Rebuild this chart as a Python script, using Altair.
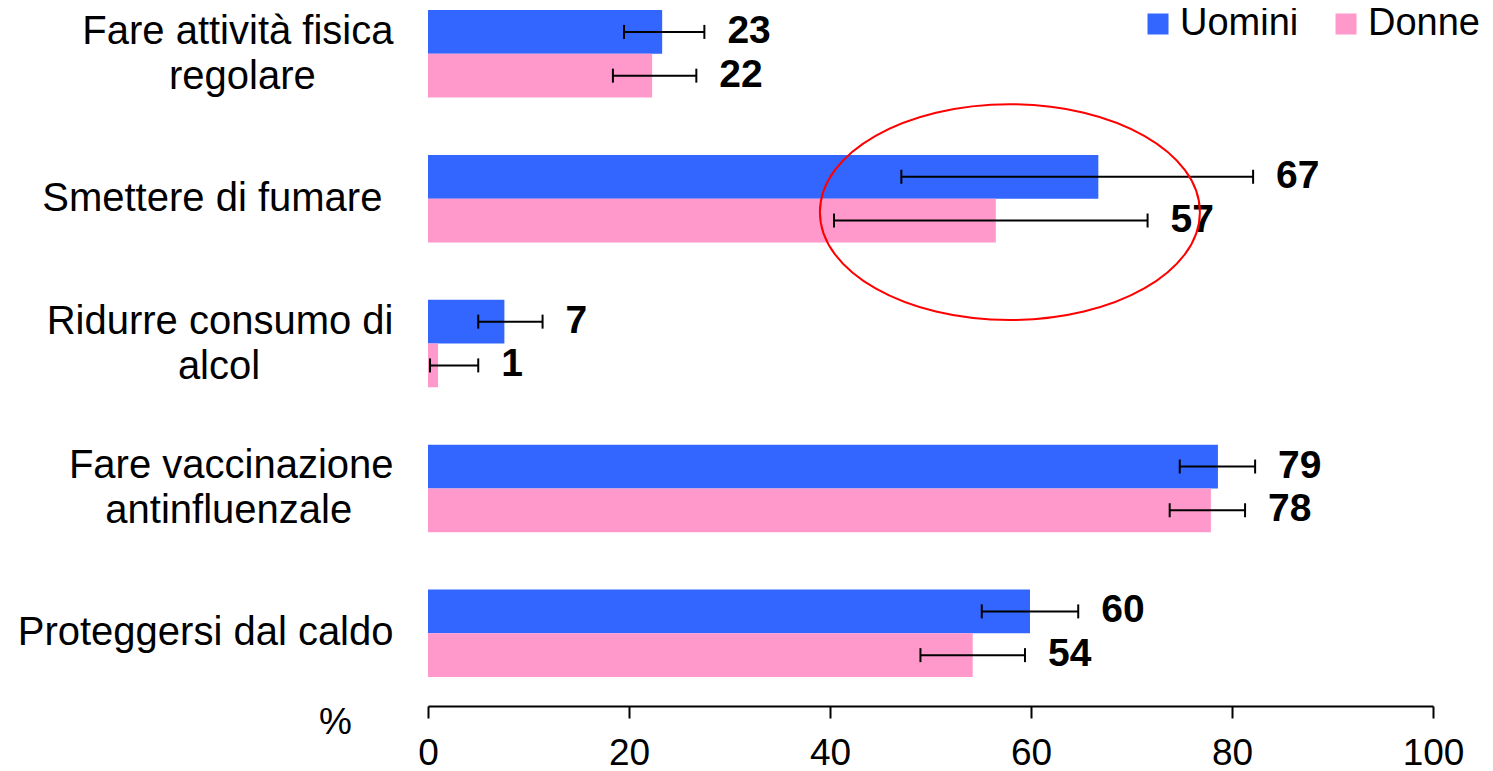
import altair as alt
import pandas as pd

NBSP = "\u00a0"
THIN = "\u2009"
ZWSP = "\u200b"  # keeps the trailing spaces from being trimmed

# category labels (lines as shown in the chart)
righe = [
    ["Fare attività fisica", "regolare"],
    ["Smettere di fumare"],
    ["Ridurre consumo di", "alcol"],
    ["Fare vaccinazione", "antinfluenzale"],
    ["Proteggersi dal caldo"],
]
# trailing spaces on the last line (text layout of the original)
rientro = [NBSP * 7, NBSP, NBSP * 12, NBSP * 3 + THIN, ""]
categorie = []
for r, pad in zip(righe, rientro):
    testo = "\n".join(r)
    if pad:
        testo = testo + pad + ZWSP
    categorie.append(testo)

serie = ["Uomini", "Donne"]

uomini = [23.3, 66.7, 7.6, 78.6, 59.9]
uomini_basso = [19.5, 47.1, 5.0, 74.8, 55.1]
uomini_alto = [27.5, 82.1, 11.4, 82.3, 64.7]
uomini_etichette = ["23", "67", "7", "79", "60"]

donne = [22.3, 56.5, 1.0, 77.9, 54.2]
donne_basso = [18.4, 40.4, 0.2, 73.8, 49.0]
donne_alto = [26.7, 71.6, 5.0, 81.3, 59.4]
donne_etichette = ["22", "57", "1", "78", "54"]

# annotation: red ellipse around "Smettere di fumare"
ellisse_categoria = [categorie[1]]
ellisse_x = [57.9]

rows = []
for i, c in enumerate(categorie):
    rows.append(dict(categoria=c, sesso="Uomini", valore=uomini[i], basso=uomini_basso[i],
                     alto=uomini_alto[i], etichetta=uomini_etichette[i]))
    rows.append(dict(categoria=c, sesso="Donne", valore=donne[i], basso=donne_basso[i],
                     alto=donne_alto[i], etichetta=donne_etichette[i]))
df = pd.DataFrame(rows)
df_ell = pd.DataFrame({"categoria": ellisse_categoria, "x": ellisse_x})

FONT = "Liberation Sans"

y_enc = alt.Y(
    "categoria:N",
    sort=categorie,
    scale=alt.Scale(paddingInner=0.396, paddingOuter=0.107, align=0.065),
    axis=alt.Axis(
        title=None, ticks=False, domain=False, labelFont=FONT, labelFontSize=40,
        labelColor="black", labelPadding=35, labelLimit=600, labelLineHeight=45,
        labelExpr="split(datum.label, '\\n')",
        labelOffset={"condition": {"test": "indexof(datum.value, '\\n') >= 0", "value": -22},
                     "value": 0},
    ),
)
yoff = alt.YOffset("sesso:N", sort=serie, scale=alt.Scale(paddingInner=0, paddingOuter=0))

x_scale = alt.Scale(domain=[0, 100], nice=False, zero=True)
x_axis = alt.Axis(
    values=[0, 20, 40, 60, 80, 100], grid=False, domainColor="black", domainWidth=2,
    tickColor="black", tickWidth=2, tickSize=12, labelFont=FONT, labelFontSize=37,
    labelColor="black", labelPadding=17, labelFlush=False,
    title="%", titleFont=FONT, titleFontSize=37, titleFontWeight="normal",
    titleColor="black", titleX=-93, titleY=16, titleAlign="center", titleBaseline="middle",
    titleAngle=0,
)

base = alt.Chart(df)

bars = base.mark_bar().encode(
    y=y_enc,
    yOffset=yoff,
    x=alt.X("valore:Q", scale=x_scale, axis=x_axis, title="%"),
    color=alt.Color(
        "sesso:N",
        sort=serie,
        scale=alt.Scale(domain=serie, range=["#3366FF", "#FF99CC"]),
        legend=alt.Legend(
            orient="none", legendX=711, legendY=-3, direction="horizontal", title=None,
            symbolType="square", symbolSize=441, symbolStrokeWidth=0,
            labelFont=FONT, labelFontSize=38, labelColor="black", labelOffset=3,
            columnPadding=28, padding=0,
        ),
    ),
)

rules = base.mark_rule(color="black", strokeWidth=2).encode(
    y=y_enc, yOffset=yoff,
    x=alt.X("basso:Q", title="%"), x2=alt.X2("alto:Q", title="%"),
)
caps_lo = base.mark_tick(color="black", thickness=2, size=14, opacity=1).encode(
    y=y_enc, yOffset=yoff, x=alt.X("basso:Q", title="%"),
)
caps_hi = base.mark_tick(color="black", thickness=2, size=14, opacity=1).encode(
    y=y_enc, yOffset=yoff, x=alt.X("alto:Q", title="%"),
)
labels = base.mark_text(
    align="left", baseline="middle", dx=23, dy=-1, font=FONT, fontSize=39,
    fontWeight="bold", color="black",
).encode(
    y=y_enc, yOffset=yoff, x=alt.X("alto:Q", title="%"), text="etichetta:N",
)

ellipse = alt.Chart(df_ell).mark_point(
    shape="M -1 0.071 A 1 0.568 0 1 0 1 0.071 A 1 0.568 0 1 0 -1 0.071 Z",
    size=144400, filled=False, stroke="#FF0000", strokeWidth=2, opacity=1,
).encode(
    y=y_enc, x=alt.X("x:Q", title="%"),
)

chart = alt.layer(bars, rules, caps_lo, caps_hi, labels, ellipse).properties(
    width=1005,
    height=698,
    autosize=alt.AutoSizeParams(type="none"),
    padding={"left": 420, "top": 0, "right": 52, "bottom": 62},
).configure(
    font=FONT, background="white", view=alt.ViewConfig(stroke=None)
)

chart.save("out.html", embed_options={"renderer": "svg", "actions": False})
